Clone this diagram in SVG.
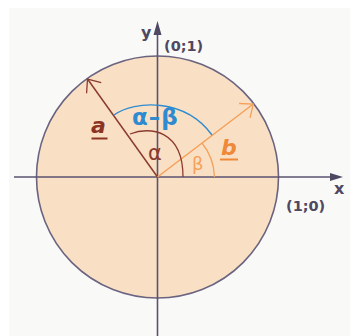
<svg xmlns="http://www.w3.org/2000/svg" width="350" height="336" viewBox="0 0 350 336">
<defs>
<style>
.axis{stroke:#5a5270;stroke-width:1.6;fill:none}
.lbl{font-family:"DejaVu Sans",Verdana,sans-serif;font-weight:bold;fill:#4f4862;font-size:14px}
.va{stroke:#8c3b2f;stroke-width:1.5;fill:none}
.vb{stroke:#f6a05a;stroke-width:1.5;fill:none}
</style>
<marker id="arrA" markerUnits="userSpaceOnUse" markerWidth="24" markerHeight="24" refX="0" refY="0" viewBox="-14 -12 16 24" orient="auto">
<path d="M-11,-9 L0,0 L-11,9" fill="none" stroke="#8c3b2f" stroke-width="1.3"/>
</marker>
<marker id="arrB" markerUnits="userSpaceOnUse" markerWidth="24" markerHeight="24" refX="0" refY="0" viewBox="-14 -12 16 24" orient="auto">
<path d="M-11,-9 L0,0 L-11,9" fill="none" stroke="#f6a05a" stroke-width="1.3"/>
</marker>
</defs>
<rect x="0" y="0" width="350" height="336" fill="#ffffff"/>
<rect x="9" y="8" width="341" height="328" fill="#f9f9f8"/>
<g id="circle">
<circle cx="157.5" cy="177" r="121" fill="#f9e0c5" stroke="#6b6480" stroke-width="1.6"/>
</g>
<g id="axes">
<line class="axis" x1="14" y1="177" x2="334" y2="177"/>
<path d="M330,173 L343,177 L330,181 Z" fill="#4f4862"/>
<line class="axis" x1="157.5" y1="336" x2="157.5" y2="32"/>
<path d="M153.5,35 L157.5,21 L161.5,35 Z" fill="#4f4862"/>
<text class="lbl" x="141" y="38" style="font-size:16px">y</text>
<text class="lbl" x="164" y="51" style="font-size:14.5px">(0;1)</text>
<text class="lbl" x="334" y="194" style="font-size:16px">x</text>
<text class="lbl" x="286" y="211" style="font-size:14.5px">(1;0)</text>
</g>
<g id="connectors">
<line class="va" x1="157.5" y1="177" x2="87.5" y2="79" marker-end="url(#arrA)"/>
<line class="vb" x1="157.5" y1="177" x2="253.3" y2="104" marker-end="url(#arrB)"/>
</g>
<g id="angle-alpha">
<path d="M130,134 C150,126 183,130 183,177" fill="none" stroke="#8c3b2f" stroke-width="1.3"/>
<text x="148" y="160" font-family="DejaVu Sans,Verdana,sans-serif" font-size="21" fill="#8c3b2f">α</text>
</g>
<g id="angle-beta">
<path d="M202,143 A57,57 0 0 1 214.5,177" fill="none" stroke="#f6a05a" stroke-width="1.3"/>
<text x="192" y="170" font-family="DejaVu Sans,Verdana,sans-serif" font-size="18" fill="#f6a05a">β</text>
</g>
<g id="angle-diff">
<path d="M114,115 C135,100 185,98 212,135" fill="none" stroke="#2e8bd0" stroke-width="1.3"/>
<text x="132" y="125" font-family="DejaVu Sans,Verdana,sans-serif" font-size="23" font-weight="bold" letter-spacing="1" fill="#2e8bd0">α–β</text>
</g>
<g id="label-a">
<text x="91" y="133" font-family="DejaVu Sans,Verdana,sans-serif" font-size="22" font-weight="bold" font-style="italic" fill="#8c3323">a</text>
<rect x="91.5" y="137.5" width="16" height="2" fill="#8c3323"/>
</g>
<g id="label-b">
<text x="221" y="155" font-family="DejaVu Sans,Verdana,sans-serif" font-size="22" font-weight="bold" font-style="italic" fill="#f0883a">b</text>
<rect x="220" y="158.5" width="18" height="2" fill="#f0883a"/>
</g>
</svg>
